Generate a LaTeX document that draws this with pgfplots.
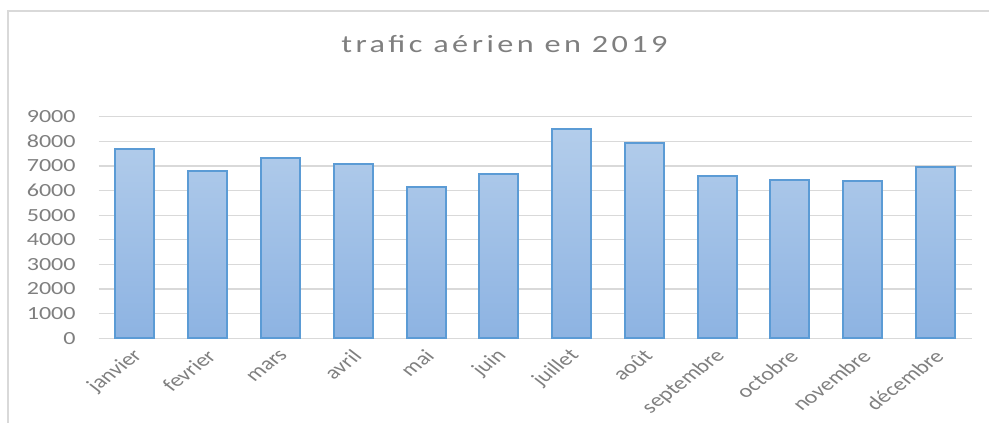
\documentclass[border=0pt]{standalone}
\usepackage{fontspec}
\setmainfont{Carlito}[FakeStretch=1.3]
\newfontfamily\titlefont{Carlito}[FakeStretch=1.3,LetterSpace=14]
\newfontfamily\labelfont{Carlito}
\usepackage{pgfplots}
\pgfplotsset{compat=1.18}
\definecolor{cborder}{HTML}{5B9BD5}
\definecolor{ctop}{HTML}{B3CDEB}
\definecolor{cbot}{HTML}{8DB3E2}
\definecolor{cgrid}{HTML}{D9D9D9}
\definecolor{ctext}{HTML}{7F7F7F}

\begin{document}
\begin{tikzpicture}
\useasboundingbox (-73.95pt,-63.5pt) rectangle (667.8pt,253.7pt);
\draw[cgrid,line width=1.5pt] (-67.9pt,-63.5pt) -- (-67.9pt,245.5pt) -- (667.8pt,245.5pt);
\node[font=\titlefont\fontsize{18.6}{20}\selectfont,text=ctext,anchor=base] at (304.4pt,214.5pt) {trafic aérien en 2019};
\begin{axis}[
  scale only axis, width=655pt, height=166.2pt,
  xmin=-0.5, xmax=11.5, ymin=0, ymax=9000,
  ytick={0,1000,...,9000},
  xtick={0,...,11},
  xticklabels={janvier,fevrier,mars,avril,mai,juin,juillet,août,septembre,octobre,novembre,décembre},
  axis line style={draw=none},
  tick style={draw=none},
  ymajorgrids, grid style={cgrid,line width=0.9pt},
  scaled y ticks=false,
  /pgf/number format/assume math mode=true,
  yticklabel={\pgfmathprintnumber[fixed,1000 sep={}]{\tick}},
  yticklabel style={font=\fontsize{13.9}{15}\selectfont,text=ctext,inner sep=0pt,xshift=-17pt},
  xticklabel style={font=\labelfont\fontsize{13.9}{15}\selectfont,text=ctext,
    inner sep=0pt,xshift=3pt,yshift=-11pt,xscale=1.3,rotate=45,anchor=east},
  clip=false,
]
\draw[cgrid,line width=1.1pt] (axis cs:-0.5,0) -- (axis cs:11.5,0);
\addplot[ybar,bar width=29.25pt,draw=cborder,line width=1.5pt,top color=ctop,bottom color=cbot]
  coordinates {(0,7680) (1,6800) (2,7310) (3,7080) (4,6150) (5,6690)
               (6,8500) (7,7930) (8,6590) (9,6430) (10,6390) (11,6970)};
\end{axis}
\end{tikzpicture}
\end{document}
